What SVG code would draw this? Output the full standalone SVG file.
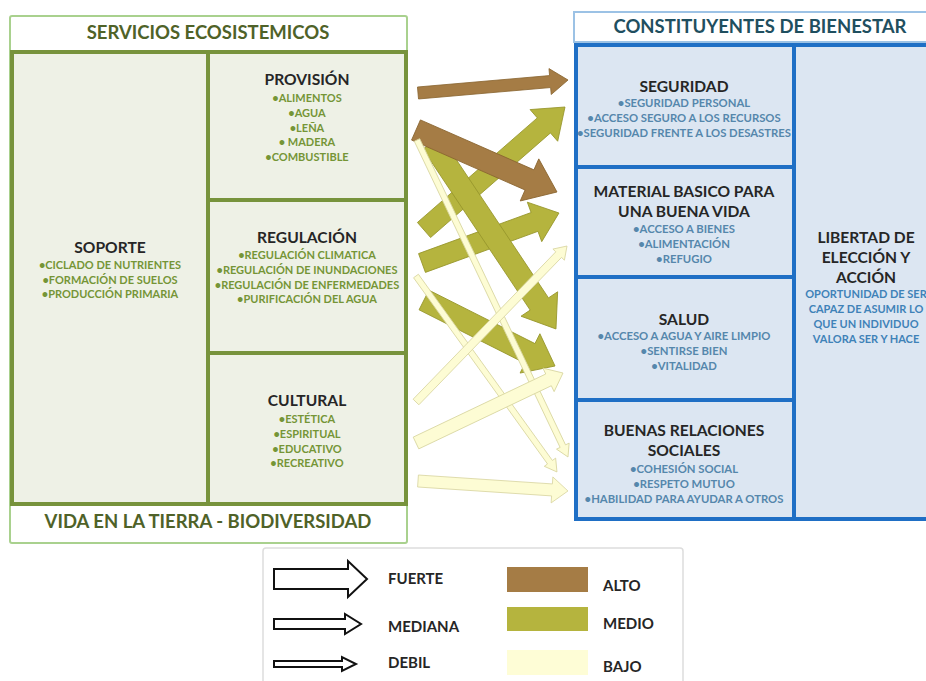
<svg xmlns="http://www.w3.org/2000/svg" width="926" height="681" viewBox="0 0 926 681">
<style>
text{font-family:Lato,"Open Sans","Liberation Sans",sans-serif;font-weight:700;text-anchor:middle}
.hdrL{font-size:18.5px;fill:#4F6228}
.hdrR{font-size:18.5px;fill:#1F4F5F}
.ttl{font-size:15.6px;fill:#262626}
.bL{font-size:11px;fill:#759536}
.bR{font-size:11.3px;fill:#5587AC}
.bLib{font-size:11px;fill:#3F82B8}
.leg{font-size:15px;fill:#262626;text-anchor:start}
.alto{fill:#A57C45;stroke:#8A6530;stroke-width:0.8}
.medio{fill:#B5B43E;stroke:#97962C;stroke-width:0.8}
.bajo{fill:#FDFCD4;stroke:#D8D5A0;stroke-width:0.8}
.legA{fill:#fff;stroke:#111;stroke-width:2}
</style>

<g id="servicios">
  <rect x="10" y="16" width="397" height="527" rx="2" fill="#fff" stroke="#A9D18E" stroke-width="2"/>
  <text class="hdrL" x="208" y="39">SERVICIOS ECOSISTEMICOS</text>
  <rect x="12" y="52" width="394" height="452" fill="#EEF1E6" stroke="#77933C" stroke-width="4"/>
  <line x1="208" y1="52" x2="208" y2="504" stroke="#77933C" stroke-width="4"/>
  <line x1="208" y1="200" x2="406" y2="200" stroke="#77933C" stroke-width="4"/>
  <line x1="208" y1="353" x2="406" y2="353" stroke="#77933C" stroke-width="4"/>
  <text class="hdrL" x="208" y="528">VIDA EN LA TIERRA - BIODIVERSIDAD</text>
</g>

<g id="soporte">
  <text class="ttl" x="110" y="253">SOPORTE</text>
  <text class="bL" x="110" y="269">•CICLADO DE NUTRIENTES</text>
  <text class="bL" x="110" y="284">•FORMACIÓN DE SUELOS</text>
  <text class="bL" x="110" y="298">•PRODUCCIÓN PRIMARIA</text>
</g>

<g id="provision">
  <text class="ttl" x="307" y="85">PROVISIÓN</text>
  <text class="bL" x="307" y="102">•ALIMENTOS</text>
  <text class="bL" x="307" y="117">•AGUA</text>
  <text class="bL" x="307" y="132">•LEÑA</text>
  <text class="bL" x="307" y="146">• MADERA</text>
  <text class="bL" x="307" y="161">•COMBUSTIBLE</text>
</g>

<g id="regulacion">
  <text class="ttl" x="307" y="243">REGULACIÓN</text>
  <text class="bL" x="307" y="259">•REGULACIÓN CLIMATICA</text>
  <text class="bL" x="307" y="274">•REGULACIÓN DE INUNDACIONES</text>
  <text class="bL" x="307" y="289">•REGULACIÓN DE ENFERMEDADES</text>
  <text class="bL" x="307" y="303">•PURIFICACIÓN DEL AGUA</text>
</g>

<g id="cultural">
  <text class="ttl" x="307" y="406">CULTURAL</text>
  <text class="bL" x="307" y="423">•ESTÉTICA</text>
  <text class="bL" x="307" y="438">•ESPIRITUAL</text>
  <text class="bL" x="307" y="453">•EDUCATIVO</text>
  <text class="bL" x="307" y="467">•RECREATIVO</text>
</g>

<g id="constituyentes">
  <rect x="574" y="12" width="360" height="30" fill="#fff" stroke="#9CC2E5" stroke-width="2"/>
  <text class="hdrR" x="760" y="33">CONSTITUYENTES DE BIENESTAR</text>
  <rect x="576" y="45" width="360" height="474" fill="#DCE6F2" stroke="#1F6FC5" stroke-width="4"/>
  <line x1="794" y1="45" x2="794" y2="519" stroke="#1F6FC5" stroke-width="4"/>
  <line x1="576" y1="167" x2="794" y2="167" stroke="#1F6FC5" stroke-width="4"/>
  <line x1="576" y1="277" x2="794" y2="277" stroke="#1F6FC5" stroke-width="4"/>
  <line x1="576" y1="400" x2="794" y2="400" stroke="#1F6FC5" stroke-width="4"/>
</g>

<g id="seguridad">
  <text class="ttl" x="684" y="92">SEGURIDAD</text>
  <text class="bR" x="684" y="107">•SEGURIDAD PERSONAL</text>
  <text class="bR" x="684" y="122">•ACCESO SEGURO A LOS RECURSOS</text>
  <text class="bR" x="684" y="137">•SEGURIDAD FRENTE A LOS DESASTRES</text>
</g>

<g id="material">
  <text class="ttl" x="684" y="197">MATERIAL BASICO PARA</text>
  <text class="ttl" x="684" y="217">UNA BUENA VIDA</text>
  <text class="bR" x="684" y="233">•ACCESO A BIENES</text>
  <text class="bR" x="684" y="248">•ALIMENTACIÓN</text>
  <text class="bR" x="684" y="263">•REFUGIO</text>
</g>

<g id="salud">
  <text class="ttl" x="684" y="325">SALUD</text>
  <text class="bR" x="684" y="340">•ACCESO A AGUA Y AIRE LIMPIO</text>
  <text class="bR" x="684" y="355">•SENTIRSE  BIEN</text>
  <text class="bR" x="684" y="370">•VITALIDAD</text>
</g>

<g id="relaciones">
  <text class="ttl" x="684" y="436">BUENAS RELACIONES</text>
  <text class="ttl" x="684" y="456">SOCIALES</text>
  <text class="bR" x="684" y="473">•COHESIÓN SOCIAL</text>
  <text class="bR" x="684" y="488">•RESPETO MUTUO</text>
  <text class="bR" x="684" y="503">•HABILIDAD PARA AYUDAR A OTROS</text>
</g>

<g id="libertad">
  <text class="ttl" x="866" y="243">LIBERTAD DE</text>
  <text class="ttl" x="866" y="263">ELECCIÓN Y</text>
  <text class="ttl" x="866" y="283">ACCIÓN</text>
  <text class="bLib" x="866" y="298">OPORTUNIDAD DE SER</text>
  <text class="bLib" x="866" y="313">CAPAZ DE ASUMIR LO</text>
  <text class="bLib" x="866" y="328">QUE UN INDIVIDUO</text>
  <text class="bLib" x="866" y="343">VALORA SER Y HACE</text>
</g>

<g id="connectors">
  <polygon class="medio" points="0,-10 159.1,-10 159.1,-21 187.1,0 159.1,21 159.1,10 0,10" transform="translate(424 230) rotate(-41.1)"/>
  <polygon class="medio" points="0,-10 119.8,-10 119.8,-21 145.8,0 119.8,21 119.8,10 0,10" transform="translate(422 263) rotate(-20.05)"/>
  <polygon class="medio" points="0,-11 193.5,-11 193.5,-22 223.5,0 193.5,22 193.5,11 0,11" transform="translate(432 143) rotate(56.31)"/>
  <polygon class="medio" points="0,-11 118.7,-11 118.7,-22 146.7,0 118.7,22 118.7,11 0,11" transform="translate(424 300) rotate(26.74)"/>
  <polygon class="alto" points="0,-6 132.6,-6 132.6,-13 150.6,0 132.6,13 132.6,6 0,6" transform="translate(418 93) rotate(-4.95)"/>
  <polygon class="alto" points="0,-11 124,-11 124,-23 154,0 124,23 124,11 0,11" transform="translate(416 130) rotate(23.74)"/>
  <polygon class="bajo" points="0,-3 339.1,-3 339.1,-7 351.1,0 339.1,7 339.1,3 0,3" transform="translate(417 140) rotate(64.53)"/>
  <polygon class="bajo" points="0,-3 229.4,-3 229.4,-7 241.4,0 229.4,7 229.4,3 0,3" transform="translate(416 276) rotate(54.27)"/>
  <polygon class="bajo" points="0,-4 205.1,-4 205.1,-8 217.1,0 205.1,8 205.1,4 0,4" transform="translate(416 402) rotate(-45.93)"/>
  <polygon class="bajo" points="0,-6.5 146.8,-6.5 146.8,-13 162.8,0 146.8,13 146.8,6.5 0,6.5" transform="translate(416 443) rotate(-25.46)"/>
  <polygon class="bajo" points="0,-6 134.3,-6 134.3,-13 150.3,0 134.3,13 134.3,6 0,6" transform="translate(418 481) rotate(3.81)"/>
</g>

<g id="legend">
  <rect x="263" y="548" width="420" height="140" rx="3" fill="#fff" stroke="#DDDDDD" stroke-width="1.5"/>
  <polygon class="legA" points="274,569 348,569 348,561 367,579 348,597 348,589 274,589"/>
  <polygon class="legA" points="274,619 345,619 345,614 361,624 345,634 345,629 274,629"/>
  <polygon class="legA" points="274,661 342,661 342,657 356,664 342,671 342,667 274,667"/>
  <text class="leg" x="388" y="584">FUERTE</text>
  <text class="leg" x="388" y="632">MEDIANA</text>
  <text class="leg" x="388" y="668">DEBIL</text>
  <rect x="507" y="567" width="81" height="25" fill="#A57C45"/>
  <rect x="507" y="607" width="81" height="24" fill="#B5B43E"/>
  <rect x="507" y="650" width="81" height="25" fill="#FEFDD6"/>
  <text class="leg" x="603" y="591">ALTO</text>
  <text class="leg" x="603" y="629">MEDIO</text>
  <text class="leg" x="603" y="672">BAJO</text>
</g>
</svg>
